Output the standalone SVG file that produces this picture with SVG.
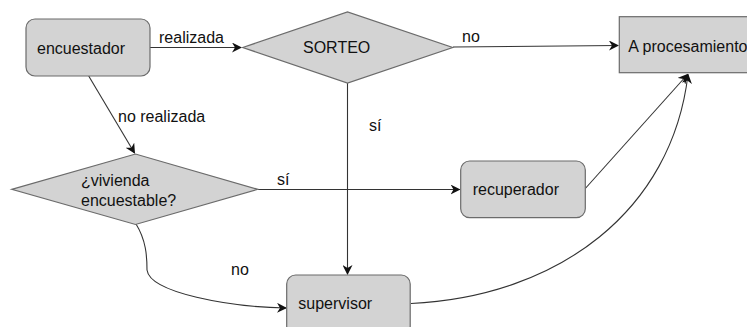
<svg xmlns="http://www.w3.org/2000/svg" width="747" height="327" viewBox="0 0 747 327">
<style>
.box{fill:#d3d3d3;stroke:#6b6b6b;stroke-width:1.2}
.t{font-family:"Liberation Sans",Arial,sans-serif;font-size:16px;fill:#111}
.c{fill:none;stroke:#333;stroke-width:1.1}
</style>
<defs>
<marker id="ah" viewBox="0 0 10 10" refX="9" refY="5" markerWidth="10" markerHeight="10" markerUnits="userSpaceOnUse" orient="auto">
<path d="M0,0 L10,5 L0,10 L3,5 Z" fill="#111"/>
</marker>
</defs>
<rect width="747" height="327" fill="#fff"/>
<g id="connectors">
<line class="c" x1="150" y1="47.5" x2="241" y2="47.5" marker-end="url(#ah)"/>
<line class="c" x1="453" y1="47" x2="618" y2="45.5" marker-end="url(#ah)"/>
<line class="c" x1="88.7" y1="76" x2="134.5" y2="153" marker-end="url(#ah)"/>
<line class="c" x1="347.5" y1="83" x2="347.5" y2="274" marker-end="url(#ah)"/>
<line class="c" x1="258" y1="189.5" x2="459.5" y2="189.5" marker-end="url(#ah)"/>
<path class="c" d="M136,224 C146,240 147,256 147,270 C150,293 230,307 286,308" marker-end="url(#ah)"/>
<line class="c" x1="585.3" y1="188.5" x2="687.5" y2="74.5" marker-end="url(#ah)"/>
<path class="c" d="M411,303.5 C560,296 672,210 688,74.5" marker-end="url(#ah)"/>
<text class="t" x="159" y="43">realizada</text>
<text class="t" x="462" y="42">no</text>
<text class="t" x="118" y="122">no realizada</text>
<text class="t" x="369" y="131">sí</text>
<text class="t" x="277" y="185">sí</text>
<text class="t" x="231" y="275">no</text>
</g>
<g id="encuestador">
<rect class="box" x="26" y="19" width="124" height="57" rx="9"/>
<text class="t" x="37" y="54">encuestador</text>
</g>
<g id="sorteo">
<polygon class="box" points="242.7,47.5 347.5,12 452.7,47.5 347.5,83"/>
<text class="t" x="303" y="53">SORTEO</text>
</g>
<g id="procesamiento">
<rect class="box" x="619.3" y="16.7" width="140" height="56"/>
<text class="t" x="628.3" y="52">A procesamiento</text>
</g>
<g id="vivienda">
<polygon class="box" points="11.7,189.3 135.5,154 257.7,189.3 135.5,224.5"/>
<text class="t" x="81" y="186">¿vivienda</text>
<text class="t" x="81" y="206">encuestable?</text>
</g>
<g id="recuperador">
<rect class="box" x="460.7" y="161" width="124.6" height="56.7" rx="9"/>
<text class="t" x="472.7" y="195">recuperador</text>
</g>
<g id="supervisor">
<rect class="box" x="286.7" y="275" width="123.5" height="60" rx="9"/>
<text class="t" x="298.3" y="309">supervisor</text>
</g>
</svg>
